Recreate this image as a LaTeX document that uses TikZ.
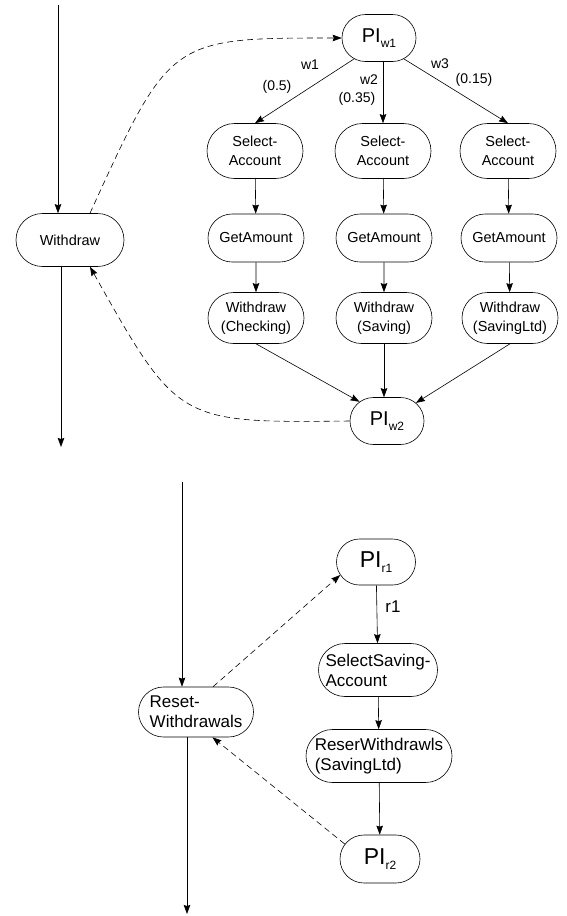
\documentclass[tikz,border=0pt]{standalone}
\usepackage{fontspec}
\setmainfont{Liberation Sans}
\usetikzlibrary{shapes,arrows.meta}

\tikzset{
  blk/.style={draw, rounded rectangle, line width=0.6pt, inner sep=2pt, align=center, font=\fontsize{14.5}{19}\selectfont},
  big/.style={font=\fontsize{17}{20}\selectfont},
  lbl/.style={inner sep=0pt, font=\fontsize{14}{16}\selectfont},
  flow/.style={-{Stealth[length=9pt,width=6.5pt,inset=1pt]}, line width=0.6pt},
  back/.style={flow, dash pattern=on 6pt off 4pt},
}
\newcommand{\pilabel}[2][20]{{\fontsize{#1}{#1}\selectfont PI}\raisebox{-5pt}{\fontsize{12}{13}\selectfont #2}}

\begin{document}
\begin{tikzpicture}[x=1pt,y=-1pt]
\useasboundingbox (0,0) rectangle (566,916);

% withdraw
\node[blk,minimum width=112pt,minimum height=53pt] at (70,240) (withdraw){Withdraw};
\coordinate (win) at (58,5);
\coordinate (wout) at (61,447);
\node[blk,minimum width=78pt,minimum height=47pt] at (379,38) (piw1){\pilabel{w1}};

\node[blk,minimum width=100pt,minimum height=55pt] at (255,151) (selacc1){Select-\\Account};
\node[blk,minimum width=100pt,minimum height=55pt] at (383,151) (selacc2){Select-\\Account};
\node[blk,minimum width=100pt,minimum height=55pt] at (508,151) (selacc3){Select-\\Account};
\node[blk,minimum width=100pt,minimum height=48pt] at (256,238) (getamt1){GetAmount};
\node[blk,minimum width=100pt,minimum height=48pt] at (384,238) (getamt2){GetAmount};
\node[blk,minimum width=100pt,minimum height=48pt] at (509,238) (getamt3){GetAmount};
\node[blk,minimum width=100pt,minimum height=51pt] at (256,318) (wdchk){Withdraw\\(Checking)};
\node[blk,minimum width=100pt,minimum height=51pt] at (384,318) (wdsav){Withdraw\\(Saving)};
\node[blk,minimum width=100pt,minimum height=51pt] at (510,318) (wdltd){Withdraw\\(SavingLtd)};
\node[blk,minimum width=78pt,minimum height=47pt] at (387,421) (piw2){\pilabel{w2}};

\node[lbl] at (310,65) (lw1){w1};
\node[lbl] at (277,87) (lp1){(0.5)};
\node[lbl] at (369,80) (lw2){w2};
\node[lbl] at (357,99) (lp2){(0.35)};
\node[lbl] at (440,64) (lw3){w3};
\node[lbl] at (474,80) (lp3){(0.15)};

\path[flow]
  (win) edge (win |- withdraw.north)
  (withdraw.south -| wout) edge (wout)
  (piw1.-140) edge (selacc1.north)
  (selacc2.north |- piw1.south) edge (selacc2.north)
  (piw1.-40) edge (selacc3.north)
  (selacc1) edge (getamt1)
  (selacc2) edge (getamt2)
  (selacc3) edge (getamt3)
  (getamt1) edge (wdchk)
  (getamt2) edge (wdsav)
  (getamt3) edge (wdltd)
  (wdchk.south) edge (piw2.145)
  (wdsav.south) edge (wdsav.south |- piw2.north)
  (wdltd.south) edge (piw2.32);

\draw[back] ([xshift=20pt]withdraw.north) .. controls (170,38) .. (piw1.west);
\draw[back] (piw2.west) .. controls (178,423) .. ([xshift=20pt]withdraw.south);

% reset withdrawals
\node[blk,big,align=left,minimum width=119pt,minimum height=50pt] at (196,712) (reset){Reset-\\Withdrawals};
\coordinate (rin) at (182,482);
\coordinate (rout) at (187,914);
\node[blk,minimum width=83pt,minimum height=46pt] at (376,562) (pir1){\pilabel[23]{r1}};
\node[blk,big,align=left,minimum width=123pt,minimum height=53pt] at (378,670) (selsav){SelectSaving-\\Account};
\node[blk,big,align=left,minimum width=150pt,minimum height=53pt] at (379,756) (resltd){ReserWithdrawls\\(SavingLtd)};
\node[blk,minimum width=84pt,minimum height=48pt] at (380,859) (pir2){\pilabel[23]{r2}};
\node[lbl,big] at (393,607) (lr1){r1};

\path[flow]
  (rin) edge (rin |- reset.north)
  (reset.south -| rout) edge (rout)
  (pir1) edge (selsav)
  (selsav) edge (resltd)
  (resltd) edge (pir2);

\path[back]
  (reset.56) edge (pir1.200)
  (pir2.157) edge (reset.-57);

\end{tikzpicture}
\end{document}
